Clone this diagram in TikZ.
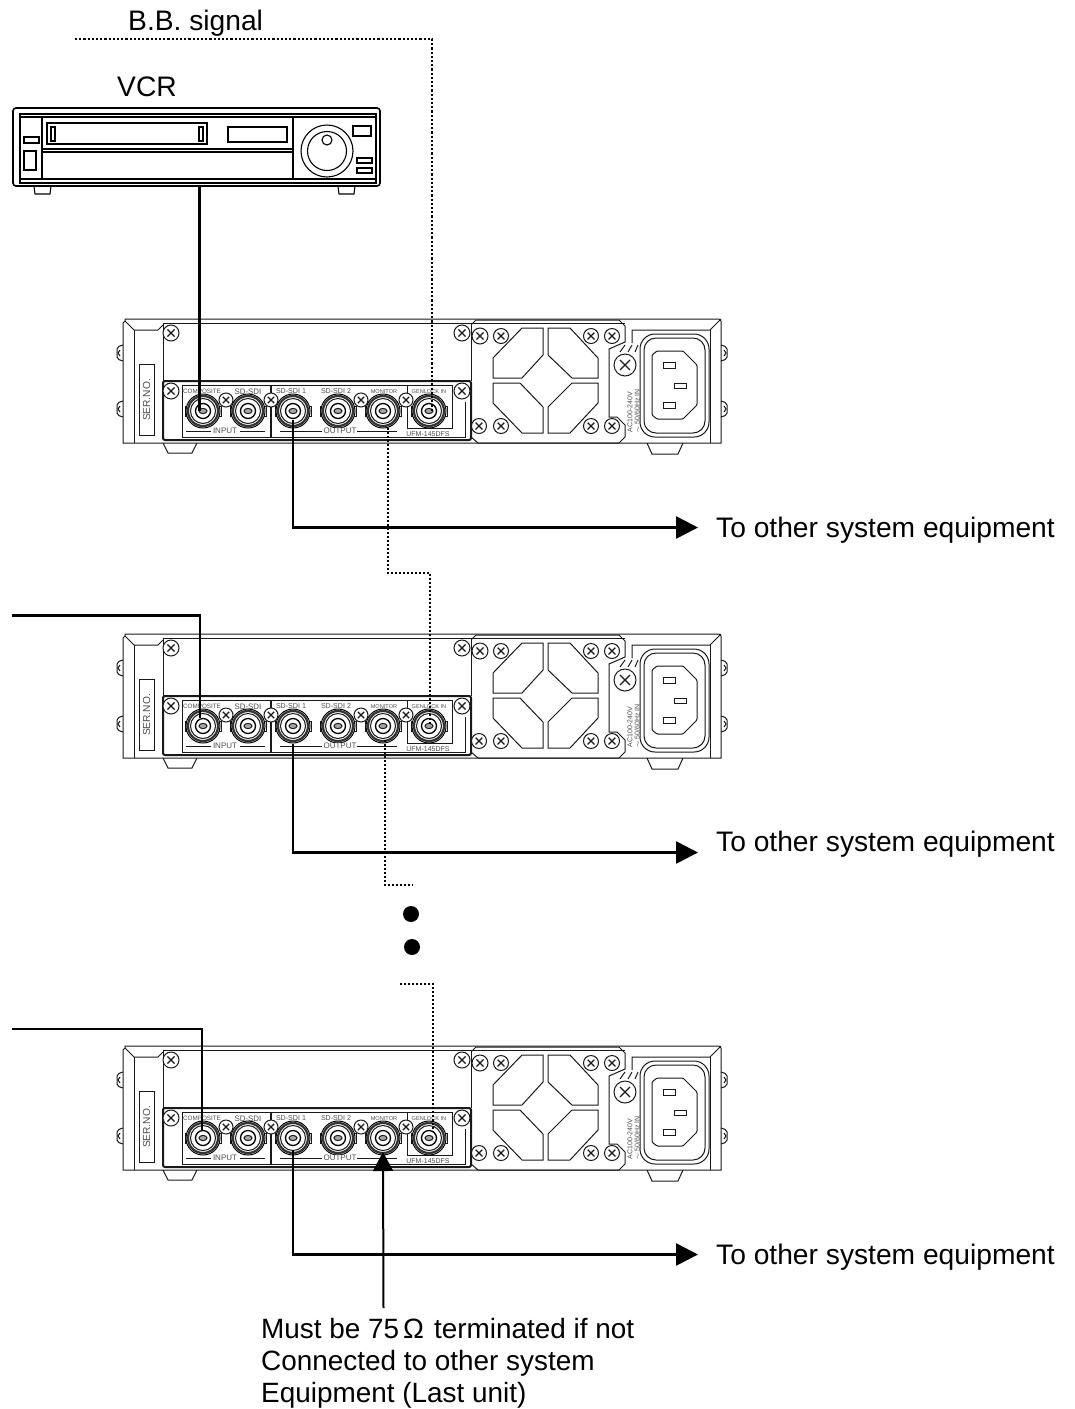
\documentclass[tikz,border=0pt]{standalone}
\usepackage{fontspec}
\setmainfont{Liberation Sans}
\usepackage{tikz}
\usetikzlibrary{arrows.meta, calc}

\tikzset{
  rearunit/.pic={
    % body
    \draw[unitline] (125,321) -- (123,323) -- (123,443) -- (721,443) -- (721,321) -- (719,319) -- (125,319) -- cycle;
    \draw[unitline] (125,321) -- (134,330) -- (158,330) -- (163,325);
    \draw[unitline] (134,330) -- (134,443);
    \draw[unitline] (163,323) -- (625,323);
    \draw[unitline] (163,323) -- (163,440);
    \draw[unitline] (471,323) -- (471,381);
    \foreach \by in {345,401} {
      \draw[unitline, rounded corners=2pt] (123,\by) -- (117,{\by+2}) -- (117,{\by+14}) -- (123,{\by+16});
      \draw[unitline] (120,{\by+5}) -- (118,{\by+8}) -- (120,{\by+11});
      \draw[unitline, rounded corners=2pt] (721,\by) -- (727,{\by+2}) -- (727,{\by+14}) -- (721,{\by+16});
      \draw[unitline] (724,{\by+5}) -- (726,{\by+8}) -- (724,{\by+11});
    }
    \draw[unitline] (163,443) -- (168,453) -- (192,453) -- (197,443);
    \draw[unitline] (647,443) -- (652,454) -- (678,454) -- (683,443);
    \draw[unitline] (139,364) rectangle (154,435);
    \node[tinylabel, font=\fontsize{10.2}{12}\selectfont, rotate=90] (-ser) at (146.5,400) {SER.NO.};
    % connector panel
    \draw[unitline, line width=2pt, rounded corners=2pt] (163,381) rectangle (471,440);
    \draw[unitline] (182,385) -- (452,385) -- (452,428) -- (407,428) -- (407,385);
    \draw[unitline] (182,385) -- (182,437) -- (465,437) -- (465,402);
    \draw[unitline, line width=1.4pt] (271,385) -- (271,437);
    \foreach \name/\lx/\lsize/\ltext in {a/202/6.3/COMPOSITE,b/248/7.9/SD-SDI,c/291/7.1/SD-SDI 1,d/336/7.1/SD-SDI 2,e/384/5.6/MONITOR,f/429/5.6/GENLOCK IN} {
      \node[tinylabel, font=\fontsize{\lsize}{9}\selectfont] (-lab\name) at (\lx,391.5) {\ltext};
    }
    \foreach \name/\bx in {comp/203,sdi/248,outa/293,outb/338,moni/383,gen/429} {
      \draw[unitline, fill=white] ({\bx-18},406) rectangle ({\bx+18},416);
      \node[bncring] (-\name) at (\bx,411) {};
      \draw[line width=2.2pt, black!80] (\bx,411) circle (15);
      \draw[unitline] (\bx,411) circle (12.5);
      \draw[line width=1.3pt] (\bx,411) circle (7.5);
      \draw[unitline, fill=black!35] (\bx,411) ellipse (4 and 2.6);
    }
    \draw[unitline] (186,431) -- (211,431) (240,431) -- (265,431) (280,431) -- (322,431) (357,431) -- (397,431);
    \node[tinylabel, font=\fontsize{8}{9}\selectfont, fill=white] (-input) at (225,431) {INPUT};
    \node[tinylabel, font=\fontsize{8}{9}\selectfont, fill=white] (-output) at (340,431) {OUTPUT};
    \node[tinylabel, font=\fontsize{7}{9}\selectfont, fill=white] (-model) at (428,434) {UFM-145DFS};
    % fan plate
    \draw[unitline] (472,324) -- (476,320) -- (619,320) -- (625,326) -- (625,342) -- (609,349) -- (609,417) -- (617,417) -- (625,425) -- (625,437) -- (619,443) -- (478,443) -- (471,437);
    \draw[unitline] (543,328) -- (522,328) -- (493,358) -- (493,378) -- (522,378) -- (543,355) -- cycle;
    \draw[unitline] (548,328) -- (570,328) -- (598,358) -- (598,378) -- (572,378) -- (548,355) -- cycle;
    \draw[unitline] (493,383) -- (520,383) -- (543,407) -- (543,433) -- (522,433) -- (493,403) -- cycle;
    \draw[unitline] (598,383) -- (572,383) -- (548,407) -- (548,433) -- (570,433) -- (598,403) -- cycle;
    % power inlet
    \draw[unitline] (721,319) -- (710,330) -- (632,330) -- (632,343);
    \draw[unitline] (710,330) -- (710,443);
    \draw[unitline] (620,352) -- (625,345) (628,352) -- (632,345) (635,352) -- (638,345);
    \draw[unitline, rounded corners=15pt] (640,334) rectangle (709,437);
    \draw[unitline, rounded corners=12pt] (644,338) rectangle (705,433);
    \draw[unitline, rounded corners=1pt] (652,355) -- (657,351) -- (683,351) -- (697,365) -- (697,405) -- (683,419) -- (657,419) -- (652,415) -- cycle;
    \draw[unitline] (663,362) rectangle (675,368);
    \draw[unitline] (674,383) rectangle (686,388);
    \draw[unitline] (663,402) rectangle (675,408);
    \node[tinylabel, font=\fontsize{7}{7}\selectfont, rotate=90, anchor=west] (-aca) at (630,433) {AC100-240V};
    \node[tinylabel, font=\fontsize{7}{7}\selectfont, rotate=90, anchor=west] (-acb) at (637,433) {$\sim$ 50/60Hz IN};
    % screws
    \foreach \sx/\sy/\sr in {171/333/8,462/333/8,480/336/8,501/336/7.5,591/336/7.5,612/336/7.5,479/426/7.5,501/426/7.5,591/426/7.5,612/426/7.5,625/365/11,171/391/8,462/391/8,226/400/7,271/400/7,361/400/7,406/400/7} {
      \draw[unitline, fill=white] (\sx,\sy) circle (\sr);
      \draw[unitline, line width=1.1pt] ({\sx-0.45*\sr},{\sy-0.45*\sr}) -- ({\sx+0.45*\sr},{\sy+0.45*\sr}) ({\sx-0.45*\sr},{\sy+0.45*\sr}) -- ({\sx+0.45*\sr},{\sy-0.45*\sr});
    }
  }
}

\begin{document}
\begin{tikzpicture}[x=1pt, y=-1pt, font=\fontsize{28.2}{32}\selectfont]
    \tikzstyle{unitline}=[line width=1pt, black!90]
    \tikzstyle{vcrline}=[line width=1.1pt]
    \tikzstyle{tinylabel}=[inner sep=0.5pt, text=black!70]
    \tikzstyle{bncring}=[circle, draw, fill=white, line width=1pt, minimum size=34pt, inner sep=0pt]
    \tikzstyle{signal}=[line width=2.6pt]
    \tikzstyle{bbdots}=[line width=2.4pt, dash pattern=on 2.2pt off 2pt]
    \tikzstyle{loopdots}=[line width=1.7pt, dash pattern=on 1.7pt off 2.3pt]
    \tikzstyle{toother}=[anchor=base west, inner sep=0pt]
    \tikzstyle{bigdot}=[circle, fill=black, minimum size=16pt, inner sep=0pt]
    \useasboundingbox (0,0) rectangle (1075,1409);

    \node[toother] (bblabel) at (128,30) {B.B. signal};
    \node[toother] (vcrlabel) at (117,96) {VCR};

    \node[rectangle, draw, line width=1.6pt, rounded corners=3pt, minimum width=367pt, minimum height=78pt, inner sep=0pt] (vcr) at (196.5,147) {};
    \draw[vcrline] (20,114) rectangle (376,183);
    \draw[vcrline] (20,117) -- (376,117) (20,179) -- (376,179);
    \draw[vcrline] (42,117) -- (42,179) (293,117) -- (293,179);
    \draw[vcrline, line width=1.6pt] (47,123) rectangle (207,144);
    \draw[vcrline] (51,127) rectangle (55,141) (199,127) rectangle (203,141);
    \draw[vcrline] (228,127) rectangle (287,142);
    \draw[vcrline] (42,149) -- (293,149) (42,152) -- (293,152);
    \draw[vcrline] (24,137) rectangle (39,143) (24,151) rectangle (36,170);
    \draw[vcrline] (327,151) circle (26) (327,151) circle (19.5) (327,140) circle (5);
    \draw[vcrline] (353,126) rectangle (371,136);
    \draw[vcrline] (357,158) rectangle (372,163) (357,168) rectangle (372,173);
    \draw[vcrline] (34,186) -- (35,194) -- (50,194) -- (51,186);
    \draw[vcrline] (338,186) -- (339,194) -- (354,194) -- (355,186);

    \pic (u1) at (0,0) {rearunit};
    \pic (u2) at (0,315) {rearunit};
    \pic (u3) at (0,727) {rearunit};

    \coordinate (bbstart) at (75,39);
    \draw[bbdots] (bbstart) -- (432,39) -- ([shift={(3,0)}]u1-gen.center);
    \draw[signal] (199.5,187) -- ([shift={(-3.5,0)}]u1-comp.center);
    \coordinate (in2) at (12,615.5);
    \coordinate (in3) at (12,1029);
    \draw[signal] (in2) -| ([shift={(-3,-8)}]u2-comp.center);
    \draw[signal] (in3) -| ([shift={(-1,-8)}]u3-comp.center);

    \coordinate (tip1) at (698,527.5);
    \coordinate (tip2) at (698,852.5);
    \coordinate (tip3) at (698,1254.5);
    \node[toother] (other1) at (716,537.5) {To other system equipment};
    \node[toother] (other2) at (716,851) {To other system equipment};
    \node[toother] (other3) at (716,1264) {To other system equipment};
    \draw[signal, -{Triangle[length=22pt,width=22pt]}] ([shift={(0,9)}]u1-outa.center) |- (tip1);
    \draw[signal, -{Triangle[length=22pt,width=22pt]}] ([shift={(0,18)}]u2-outa.center) |- (tip2);
    \draw[signal, -{Triangle[length=22pt,width=22pt]}] ([shift={(0,12)}]u3-outa.center) |- (tip3);

    \draw[loopdots] ([shift={(5,17)}]u1-moni.center) |- (430,573) -- ([shift={(1,0)}]u2-gen.center);
    \draw[loopdots] ([shift={(2,14)}]u2-moni.center) |- (413,885);
    \draw[loopdots] (400,984) -| ([shift={(4,-6)}]u3-gen.center);
    \node[bigdot] (dot1) at (411,914) {};
    \node[bigdot] (dot2) at (412,947) {};

    \node[anchor=base west, align=left, inner sep=0pt, font=\fontsize{27.9}{32}\selectfont] (termnote) at (261,1402) {Must be 75\hspace{4pt}Ω\hspace{10pt}terminated if not\\Connected to other system\\Equipment (Last unit)};
    \coordinate (termfoot) at (383.5,1308);
    \draw[line width=2pt, -{Triangle[length=19pt,width=20pt]}] (termfoot) -- ([shift={(0,14)}]u3-moni.center);
\end{tikzpicture}
\end{document}
